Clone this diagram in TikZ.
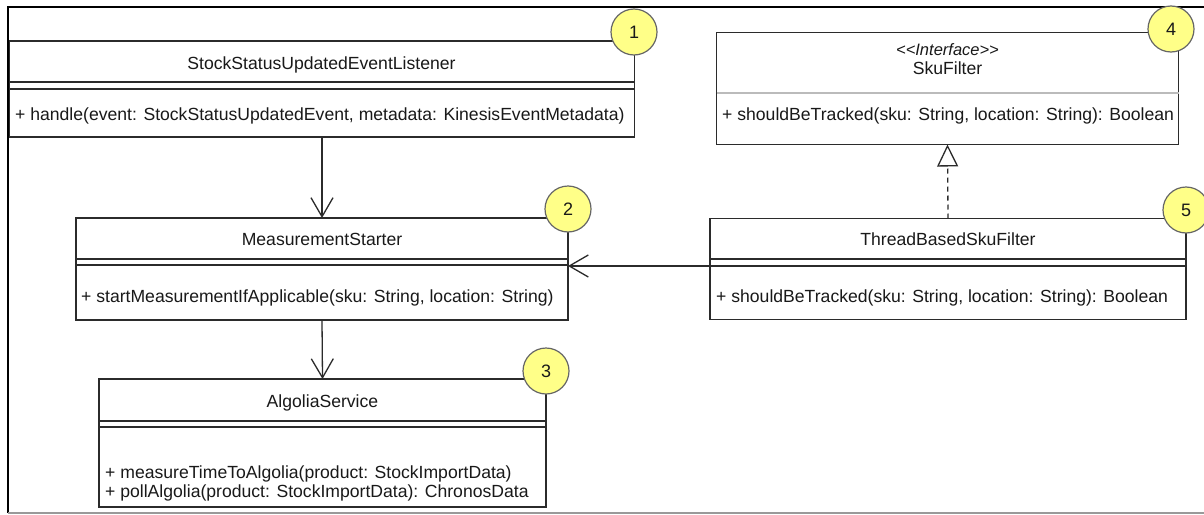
\documentclass[tikz,border=0pt]{standalone}
\usepackage{fontspec}
\setmainfont{Liberation Sans}
\usetikzlibrary{arrows.meta}
\definecolor{linec}{HTML}{2B2B2B}
\definecolor{badgefill}{HTML}{FFFF88}
\definecolor{badgeline}{HTML}{666666}
\definecolor{divgray}{HTML}{BBBBBB}
\definecolor{framegray}{HTML}{999999}
\tikzset{
  cls/.style={draw=linec, line width=1.3pt, fill=white, rectangle, inner sep=0pt, outer sep=0pt, anchor=north west},
  sep/.style={draw=linec, line width=1.3pt},
  badge/.style={circle, draw=badgeline, line width=1.2pt, fill=badgefill, minimum size=46pt, inner sep=0pt, text=black!90, font=\fontsize{18}{21}\selectfont},
  lbl/.style={anchor=base, inner sep=0pt, text=black!90, font=\fontsize{17.6}{21}\selectfont},
  lbll/.style={lbl, anchor=base west},
  assoc/.style={draw=linec, line width=1.3pt, -{Straight Barb[length=19pt,width=22pt]}},
  realize/.style={draw=linec, line width=1.3pt, dash pattern=on 5pt off 4pt, -{Triangle[length=22pt,width=21pt,fill=white]}},
}
\begin{document}
\begin{tikzpicture}[x=1pt,y=-1pt]
\useasboundingbox (0,0) rectangle (1204,514);
\fill[white] (0,0) rectangle (1204,514);
% frame
\draw[black, line width=2pt] (1204,7) -- (8,7) -- (8,513);
\draw[framegray, line width=2pt] (8,513) -- (1204,513);

% Box 1
\node[cls, minimum width=625pt, minimum height=96pt] (b1) at (9.5,41) {};
\draw[sep] (b1.west |- 0,82) -- (b1.east |- 0,82);
\draw[sep] (b1.west |- 0,89) -- (b1.east |- 0,89);
\node[lbl] (t1) at (321.5,69) {StockStatusUpdatedEventListener};
\node[lbll] (m1) at (15,120) {+ handle(event: StockStatusUpdatedEvent, metadata: KinesisEventMetadata)};
\node[badge] (c1) at (634,32) {1};

% Box 2
\node[cls, minimum width=492pt, minimum height=102pt] (b2) at (76,218) {};
\draw[sep] (b2.west |- 0,259) -- (b2.east |- 0,259);
\draw[sep] (b2.west |- 0,265) -- (b2.east |- 0,265);
\node[lbl] (t2) at (322,245) {MeasurementStarter};
\node[lbll] (m2) at (81,302) {+ startMeasurementIfApplicable(sku: String, location: String)};
\node[badge] (c2) at (568,209) {2};

% Box 3
\node[cls, minimum width=447pt, minimum height=128pt] (b3) at (99,379) {};
\draw[sep] (b3.west |- 0,421) -- (b3.east |- 0,421);
\draw[sep] (b3.west |- 0,427) -- (b3.east |- 0,427);
\node[lbl] (t3) at (322.5,407) {AlgoliaService};
\node[lbll] (m3a) at (105,478) {+ measureTimeToAlgolia(product: StockImportData)};
\node[lbll] (m3b) at (105,497) {+ pollAlgolia(product: StockImportData): ChronosData};
\node[badge] (c3) at (546,371) {3};

% Box 4
\node[cls, minimum width=462pt, minimum height=112pt] (b4) at (716.5,32.5) {};
\draw[divgray, line width=1.3pt] (b4.west |- 0,93) -- (b4.east |- 0,93);
\node[lbl, font=\fontsize{16.5}{19}\selectfont\itshape] (s4) at (947.5,55) {{<}{<}Interface{>}{>}};
\node[lbl] (t4) at (947.5,74) {SkuFilter};
\node[lbll] (m4) at (722,120) {+ shouldBeTracked(sku: String, location: String): Boolean};
\node[badge] (c4) at (1171,29) {4};

% Box 5
\node[cls, minimum width=476pt, minimum height=101pt] (b5) at (710,218.5) {};
\draw[sep] (b5.west |- 0,259) -- (b5.east |- 0,259);
\draw[sep] (b5.west |- 0,266) -- (b5.east |- 0,266);
\node[lbl] (t5) at (948,245) {ThreadBasedSkuFilter};
\node[lbll] (m5) at (716,302) {+ shouldBeTracked(sku: String, location: String): Boolean};
\node[badge] (c5) at (1186,210) {5};

% connectors
\draw[assoc] (b1.south) -- (b2.north);
\draw[assoc] (b2.south) -- (b3.north);
\draw[assoc] (b5.west |- 0,266) -- (b2.east |- 0,266);
\draw[realize] (b5.north) -- (b4.south);
\end{tikzpicture}
\end{document}
